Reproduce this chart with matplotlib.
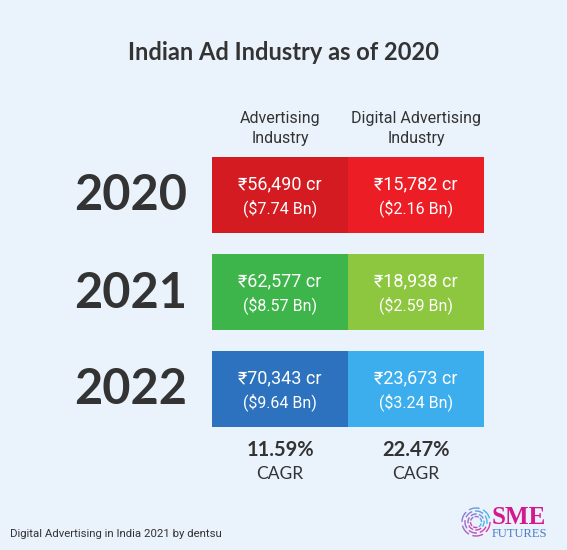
import matplotlib
matplotlib.use("Agg")
import matplotlib.pyplot as plt
from matplotlib.patches import Arc
import numpy as np

# data
years = ["2020", "2021", "2022"]
columns = ["Advertising\nIndustry", "Digital Advertising\nIndustry"]
adv_inr = ["₹56,490 cr", "₹62,577 cr", "₹70,343 cr"]
adv_usd = ["($7.74 Bn)", "($8.57 Bn)", "($9.64 Bn)"]
dig_inr = ["₹15,782 cr", "₹18,938 cr", "₹23,673 cr"]
dig_usd = ["($2.16 Bn)", "($2.59 Bn)", "($3.24 Bn)"]
cagr = ["11.59%", "22.47%"]

title = "Indian Ad Industry as of 2020"
source = "Digital Advertising in India 2021 by dentsu"

# styles
bg = "#EAF2FC"
dark = "#333333"
adv_colors = ["#D41B22", "#3DB54A", "#2D72BE"]
dig_colors = ["#EC1D25", "#8DC63F", "#3CAEEE"]
roboto = ["Roboto", "DejaVu Sans"]
lato = ["Lato", "DejaVu Sans"]

fig = plt.figure(figsize=(5.67, 5.5), dpi=100, facecolor=bg)
ax = fig.add_axes([0, 0, 1, 1])
ax.set_facecolor(bg)
ax.set_xlim(0, 567)
ax.set_ylim(550, 0)
ax.axis("off")

col_x = [280, 416]
cell_w = 136
cell_h = 76
row_top = [157 + 97 * i for i in range(len(years))]
row_mid = [t + cell_h / 2 for t in row_top]

ax.bar([col_x[0]] * 3, [cell_h] * 3, bottom=row_top, width=cell_w,
       color=adv_colors, linewidth=0)
ax.bar([col_x[1]] * 3, [cell_h] * 3, bottom=row_top, width=cell_w,
       color=dig_colors, linewidth=0)

ax.text(283, 53, title, ha="center", va="center", fontsize=17,
        fontweight="bold", color=dark, family=lato)

for x, c in zip(col_x, columns):
    ax.text(x, 128.5, c, ha="center", va="center", fontsize=11.5,
            color=dark, family=roboto, linespacing=1.42)

for i, y in enumerate(row_mid):
    ax.text(131, y + 1, years[i], ha="center", va="center", fontsize=35,
            fontweight="bold", color=dark, family=lato)
    ax.text(col_x[0], y - 11, adv_inr[i], ha="center", va="center",
            fontsize=13, color="white", family=roboto)
    ax.text(col_x[0], y + 13, adv_usd[i], ha="center", va="center",
            fontsize=11.5, color="white", family=roboto)
    ax.text(col_x[1], y - 11, dig_inr[i], ha="center", va="center",
            fontsize=13, color="white", family=roboto)
    ax.text(col_x[1], y + 13, dig_usd[i], ha="center", va="center",
            fontsize=11.5, color="white", family=roboto)

for x, v in zip(col_x, cagr):
    ax.text(x, 450, v, ha="center", va="center", fontsize=14.5,
            fontweight="bold", color=dark, family=lato)
    ax.text(x, 474, "CAGR", ha="center", va="center", fontsize=12.5,
            color=dark, family=lato)

ax.text(10, 534, source, ha="left", va="center", fontsize=8.2,
        color=dark, family=roboto)

# logo
cmap = matplotlib.colors.LinearSegmentedColormap.from_list(
    "logo", ["#D63FA8", "#9A6FD0", "#4FB6E8"])
for k, r in enumerate([14, 11, 8, 5.5]):
    for j in range(6):
        a0 = j * 60 + k * 25
        ax.add_patch(Arc((476, 522), 2 * r, 2 * r, theta1=a0, theta2=a0 + 45,
                         color=cmap(j / 5), lw=1.0))
ax.text(519, 517, "SME", ha="center", va="center", fontsize=18,
        fontweight="bold", color="#D4198F", family=["Liberation Serif"])
ax.text(519, 534, "FUTURES", ha="center", va="center", fontsize=9,
        color="#4A7EC2", family=["Liberation Serif"])

fig.savefig("out.png", dpi=100, facecolor=bg)
